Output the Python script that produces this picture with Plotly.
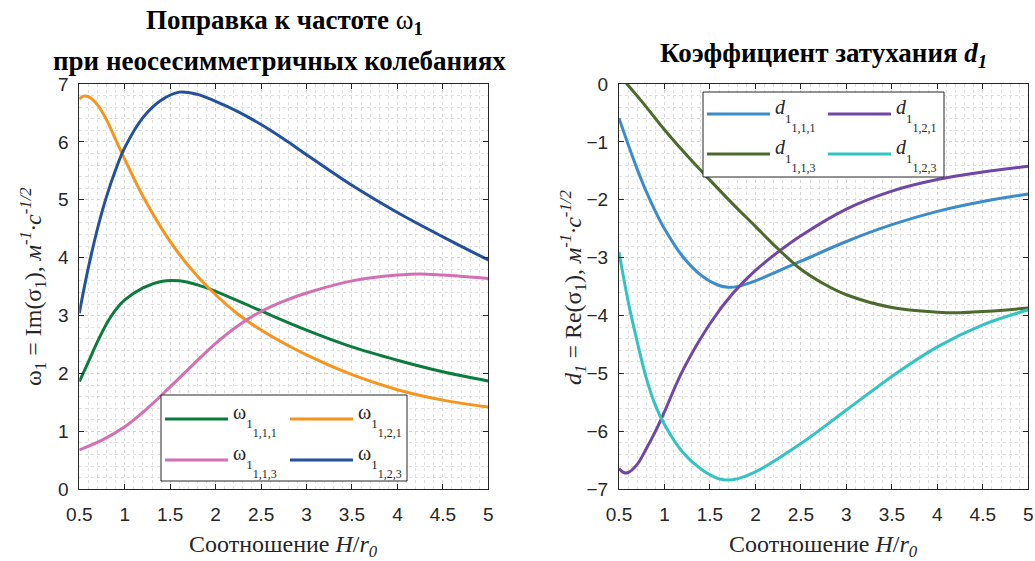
import plotly.graph_objects as go

W, H = 1035, 561

# ---------------- data: left panel (omega) ----------------
x_w111 = [0.5, 0.6, 0.7, 0.8, 0.9, 1.0, 1.2, 1.4, 1.6, 1.8, 2.0, 2.5, 3.0, 3.5, 4.0, 4.5, 5.0]
w111 = [1.86, 2.2, 2.55, 2.86, 3.1, 3.27, 3.48, 3.59, 3.6, 3.53, 3.42, 3.08, 2.75, 2.46, 2.23, 2.03, 1.87]

x_w121 = [0.5, 0.55, 0.6, 0.7, 0.8, 0.9, 1.0, 1.2, 1.4, 1.6, 1.8, 2.0, 2.25, 2.5, 3.0, 3.5, 4.0, 4.5, 5.0]
w121 = [6.74, 6.79, 6.78, 6.64, 6.38, 6.04, 5.70, 5.06, 4.52, 4.06, 3.68, 3.36, 3.02, 2.75, 2.32, 1.98, 1.72, 1.54, 1.42]

x_w113 = [0.5, 0.75, 1.0, 1.25, 1.5, 1.75, 2.0, 2.25, 2.5, 2.75, 3.0, 3.5, 4.0, 4.25, 4.5, 5.0]
w113 = [0.68, 0.85, 1.08, 1.4, 1.77, 2.15, 2.52, 2.83, 3.07, 3.25, 3.39, 3.6, 3.7, 3.72, 3.7, 3.64]

x_w123 = [0.5, 0.55, 0.6, 0.7, 0.8, 0.9, 1.0, 1.2, 1.4, 1.6, 1.8, 2.0, 2.25, 2.5, 2.75, 3.0, 3.5, 4.0, 4.5, 5.0]
w123 = [3.04, 3.45, 3.83, 4.5, 5.06, 5.52, 5.9, 6.42, 6.72, 6.86, 6.82, 6.70, 6.52, 6.30, 6.05, 5.78, 5.25, 4.78, 4.36, 3.96]

# ---------------- data: right panel (d) ----------------
x_d111 = [0.5, 0.6, 0.7, 0.8, 0.9, 1.0, 1.2, 1.4, 1.6, 1.7, 1.8, 2.0, 2.5, 3.0, 3.5, 4.0, 4.5, 5.0]
d111 = [-0.59, -1.04, -1.47, -1.86, -2.2, -2.5, -2.98, -3.3, -3.48, -3.51, -3.5, -3.40, -3.06, -2.72, -2.43, -2.2, -2.03, -1.9]

x_d121 = [0.5, 0.55, 0.6, 0.7, 0.8, 0.9, 1.0, 1.2, 1.5, 1.75, 2.0, 2.25, 2.5, 3.0, 3.5, 4.0, 4.5, 5.0]
d121 = [-6.64, -6.71, -6.71, -6.57, -6.3, -6.0, -5.66, -4.95, -4.14, -3.62, -3.22, -2.9, -2.62, -2.16, -1.85, -1.65, -1.52, -1.42]

x_d113 = [0.5, 0.75, 1.0, 1.25, 1.5, 1.75, 2.0, 2.25, 2.5, 2.75, 3.0, 3.5, 4.0, 4.25, 4.5, 5.0]
d113 = [0.16, -0.3, -0.79, -1.24, -1.66, -2.07, -2.46, -2.85, -3.2, -3.45, -3.64, -3.86, -3.94, -3.95, -3.93, -3.87]

x_d123 = [0.5, 0.6, 0.7, 0.8, 0.9, 1.0, 1.2, 1.4, 1.6, 1.7, 1.8, 2.0, 2.5, 3.0, 3.5, 4.0, 4.5, 5.0]
d123 = [-2.9, -3.75, -4.45, -5.08, -5.55, -5.88, -6.36, -6.65, -6.82, -6.84, -6.82, -6.7, -6.21, -5.63, -5.05, -4.54, -4.16, -3.9]

x_ticks = [0.5, 1, 1.5, 2, 2.5, 3, 3.5, 4, 4.5, 5]
x_ticklabels = ["0.5", "1", "1.5", "2", "2.5", "3", "3.5", "4", "4.5", "5"]
yl_ticks = [0, 1, 2, 3, 4, 5, 6, 7]
yr_ticks = [0, -1, -2, -3, -4, -5, -6, -7]

idx_labels = ["1,1,1", "1,2,1", "1,1,3", "1,2,3"]


def leg_name(sym, idx):
    # symbol with subscript "1" and a second-level subscript holding the mode indices;
    # the trailing blank line gives the item room so the low subscript is not clipped
    inner = (sym
             + '<span style="font-size:42px"><sub><span style="font-size:13px">1</span></sub></span>'
             + '<span style="font-size:88px"><sub><span style="font-size:12px">' + idx + '</span></sub></span>')
    return ('<span style="font-size:24px"><sub><span style="font-size:20px">' + inner
            + '</span></sub></span><br>&nbsp;')


names_left = [leg_name("ω", s) for s in idx_labels]
names_right = [leg_name("<i>d</i>", s) for s in idx_labels]

col_left = ["#0b7b3e", "#f7941d", "#d36fb2", "#23519b"]
col_right = ["#3a8ccb", "#7046a6", "#4b6a2b", "#33c3c3"]


def px(x):
    return x / W


def py(y):
    return 1 - y / H


L_x0, L_x1 = 79.3, 488.3
R_x0, R_x1 = 619.0, 1028.3
Y_top, Y_bot = 84.0, 489.3

fig = go.Figure()

left_series = [(x_w111, w111), (x_w121, w121), (x_w113, w113), (x_w123, w123)]
right_series = [(x_d111, d111), (x_d121, d121), (x_d113, d113), (x_d123, d123)]

for i, (xs, ys) in enumerate(left_series):
    fig.add_trace(go.Scatter(x=xs, y=ys, mode="lines", name=names_left[i], showlegend=True,
                             line=dict(color=col_left[i], width=3, shape="spline", smoothing=1.0),
                             xaxis="x", yaxis="y",
                             legend="legend" if i == 0 else f"legend{i+1}"))
for i, (xs, ys) in enumerate(right_series):
    fig.add_trace(go.Scatter(x=xs, y=ys, mode="lines", name=names_right[i], showlegend=True,
                             line=dict(color=col_right[i], width=3, shape="spline", smoothing=1.0),
                             xaxis="x2", yaxis="y2",
                             legend=f"legend{i+5}"))

axis_common = dict(
    showline=True, linecolor="#262626", linewidth=1, mirror="allticks",
    ticks="inside", ticklen=5, tickcolor="#262626",
    showgrid=True, gridcolor="#d4d4d4", griddash="dot", gridwidth=1,
    zeroline=False,
    tickfont=dict(family="Liberation Sans, Arial", size=19, color="#262626"),
)

xminor = dict(dtick=0.1, showgrid=True, gridcolor="#e0e0e0", griddash="dot", ticks="")
yminor = dict(dtick=0.2, showgrid=True, gridcolor="#e0e0e0", griddash="dot", ticks="")

fig.update_layout(
    width=W, height=H,
    margin=dict(l=0, r=0, t=0, b=0, autoexpand=False),
    paper_bgcolor="white", plot_bgcolor="white",
    showlegend=True,
    xaxis=dict(domain=[px(L_x0), px(L_x1)], range=[0.5, 5], tickvals=x_ticks, ticktext=x_ticklabels,
               anchor="y", minor=xminor, ticklabelstandoff=8, **axis_common),
    yaxis=dict(domain=[py(Y_bot), py(Y_top)], range=[0, 7], tickvals=yl_ticks, anchor="x",
               minor=yminor, ticklabelstandoff=6, **axis_common),
    xaxis2=dict(domain=[px(R_x0), px(R_x1)], range=[0.5, 5], tickvals=x_ticks, ticktext=x_ticklabels,
                anchor="y2", minor=xminor, ticklabelstandoff=8, **axis_common),
    yaxis2=dict(domain=[py(Y_bot), py(Y_top)], range=[-7, 0], tickvals=yr_ticks, anchor="x2",
                minor=yminor, ticklabelstandoff=6, **axis_common),
)

# legends: one per item, positioned in a 2x2 grid inside a framed box
leg_font = dict(family="Liberation Serif, Times New Roman", size=20, color="#262626")
left_pos = [(160, 419), (285, 419), (160, 460), (285, 460)]
right_pos = [(702, 114), (823, 114), (702, 154), (823, 154)]
for i in range(8):
    key = "legend" if i == 0 else f"legend{i+1}"
    x0, y0 = (left_pos + right_pos)[i]
    fig.layout[key] = dict(x=px(x0), y=py(y0), xanchor="left", yanchor="middle",
                           bgcolor="rgba(0,0,0,0)", borderwidth=0, font=leg_font,
                           itemwidth=63, orientation="v", visible=True)

# legend frames
for (x0, y0, x1, y1) in [(161, 395, 407, 481), (703, 92, 944, 177)]:
    fig.add_shape(type="rect", xref="paper", yref="paper",
                  x0=px(x0), x1=px(x1), y0=py(y1), y1=py(y0),
                  line=dict(color="#262626", width=1), fillcolor="white", layer="above")

title_font = dict(family="Liberation Serif, Times New Roman", size=27, color="black")
label_font = dict(family="Liberation Serif, Times New Roman", size=24, color="#262626")

ann = [
    dict(text="<b>Поправка к частоте </b>ω<sub><b>1</b></sub>", x=px(284), y=py(22), font=title_font),
    dict(text="<b>при неосесимметричных колебаниях</b>", x=px(279), y=py(61), font=title_font),
    dict(text="<b>Коэффициент затухания </b><b><i>d</i></b><sub><b><i>1</i></b></sub>", x=px(823), y=py(55), font=title_font),
    dict(text="Соотношение <i>H</i>/<i>r</i><sub><i>0</i></sub>", x=px(283), y=py(546), font=label_font),
    dict(text="Соотношение <i>H</i>/<i>r</i><sub><i>0</i></sub>", x=px(823), y=py(546), font=label_font),
    dict(text="ω<sub>1</sub> = Im(σ<sub>1</sub>), <i>м</i><sup><i>-1</i></sup><i>·c</i><sup><i>-1/2</i></sup>",
         x=px(33), y=py(287), textangle=-90, font=label_font),
    dict(text="<i>d</i><sub><i>1</i></sub> = Re(σ<sub>1</sub>), <i>м</i><sup><i>-1</i></sup><i>·c</i><sup><i>-1/2</i></sup>",
         x=px(573), y=py(287), textangle=-90, font=label_font),
]
for a in ann:
    fig.add_annotation(xref="paper", yref="paper", showarrow=False, xanchor="center", yanchor="middle", **a)

fig.write_html("out.html")
